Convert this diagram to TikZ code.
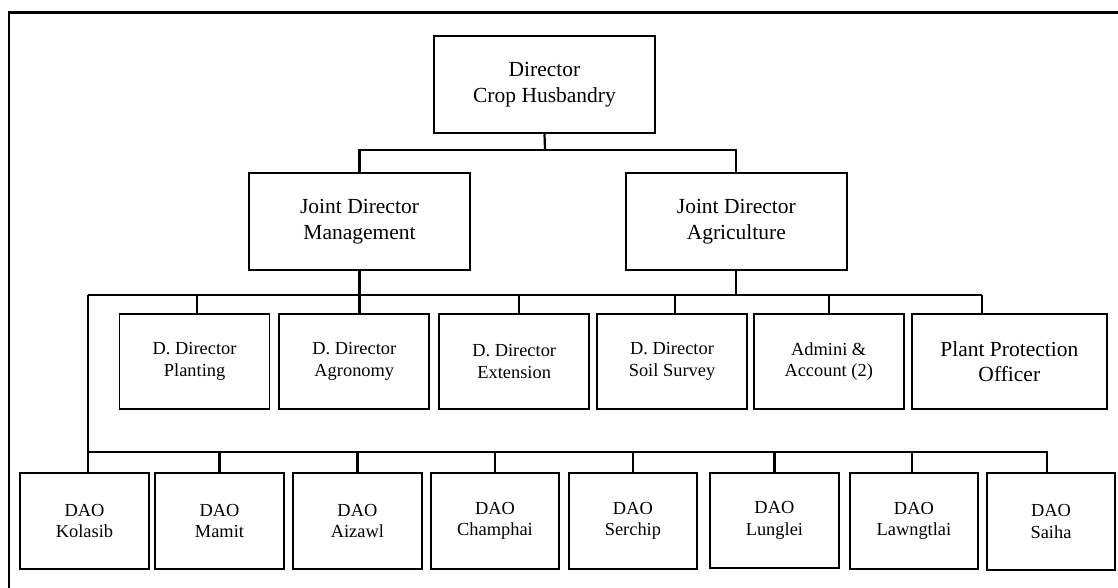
\documentclass[tikz,border=0pt]{standalone}
\usepackage{fontspec}
\setmainfont{Liberation Serif}
\begin{document}
\begin{tikzpicture}[x=1pt,y=-1pt,
  box/.style={draw, line width=1.7pt, inner sep=0pt, align=center, minimum width=#1},
  box/.default=150pt,
  big/.style={font=\fontsize{21.5}{25.5}\selectfont},
  small/.style={font=\fontsize{18.4}{21.5}\selectfont},
  conn/.style={line width=2.2pt},
  frame/.style={line width=2.4pt}]
\useasboundingbox (0,0) rectangle (1118,588);
% frame (only top and left edges visible)
\draw[frame] (9,588) -- (9,12.7) -- (1118,12.7);

% level 0
\node[box=221pt, minimum height=97pt, big] (dir) at (544.5,84.5) {Director\\Crop Husbandry};
% level 1
\node[box=221pt, minimum height=97pt, big] (jdm) at (359.5,221.5) {Joint Director\\Management};
\node[box=221pt, minimum height=97pt, big] (jda) at (736.3,221.5) {Joint Director\\Agriculture};
% level 2
\node[box, minimum height=95pt, small] (pl) at (194.6,361.5) {D. Director\\Planting};
\node[box, minimum height=95pt, small] (ag) at (354.3,361.5) {D. Director\\Agronomy};
\node[box, minimum height=95pt, small] (ex) at (514.2,361.5) {D. Director\\Extension};
\node[box, minimum height=95pt, small] (ss) at (672,361.5) {D. Director\\Soil Survey};
\node[box, minimum height=95pt, small] (ad) at (828.7,361.5) {Admini \&\\Account (2)};
\node[box=195pt, minimum height=95pt, big] (pp) at (1009.3,361.5) {Plant Protection\\Officer};
% level 3
\node[box=129pt, minimum height=96pt, small] (ko) at (84.5,521) {DAO\\Kolasib};
\node[box=129pt, minimum height=96pt, small] (ma) at (219.5,521) {DAO\\Mamit};
\node[box=129pt, minimum height=96pt, small] (ai) at (357.4,521) {DAO\\Aizawl};
\node[box=128pt, minimum height=96pt, small] (ch) at (495,521) {DAO\\Champhai};
\node[box=128pt, minimum height=96pt, small] (se) at (632.9,521) {DAO\\Serchip};
\node[box=129pt, minimum height=95pt, small] (lu) at (774.4,520.3) {DAO\\Lunglei};
\node[box=128pt, minimum height=96pt, small] (la) at (913.9,521) {DAO\\Lawngtlai};
\node[box=128pt, minimum height=97pt, small] (sa) at (1051,521.5) {DAO\\Saiha};

% connectors level 0 -> 1
\coordinate (b1) at (545,150);
\draw[conn] (dir.south) -- (b1);
\draw[conn] (jdm.north) |- (b1) -| (jda.north);

% connectors level 1 -> 2
\coordinate (b2L) at (88,295);
\coordinate (b2R) at (982,295);
\draw[conn] (b2L) -- (b2R);
\draw[conn] (jdm.south) -- (jdm.south |- ag.north);
\draw[conn] (jda.south) -- (jda.south |- b2L);
\draw[conn] ([xshift=2.4pt]pl.north) -- ([xshift=2.4pt]pl.north |- b2L);
\draw[conn] ([xshift=4.4pt]ex.north) -- ([xshift=4.4pt]ex.north |- b2L);
\draw[conn] ([xshift=3pt]ss.north) -- ([xshift=3pt]ss.north |- b2L);
\draw[conn] (ad.north) -- (ad.north |- b2L);
\draw[conn] (b2R) -- (b2R |- pp.north);

% connectors to DAO level
\coordinate (b3L) at (88,452);
\coordinate (b3R) at (1047,452);
\draw[conn] (b2L) -- (b2L |- ko.north);
\draw[conn] (b3L) -- (b3R) -- (b3R |- sa.north);
\draw[conn] (ma.north) -- (ma.north |- b3L);
\draw[conn] (ai.north) -- (ai.north |- b3L);
\draw[conn] (ch.north) -- (ch.north |- b3L);
\draw[conn] (se.north) -- (se.north |- b3L);
\draw[conn] (lu.north) -- (lu.north |- b3L);
\draw[conn] ([xshift=-2pt]la.north) -- ([xshift=-2pt]la.north |- b3L);
\end{tikzpicture}
\end{document}
